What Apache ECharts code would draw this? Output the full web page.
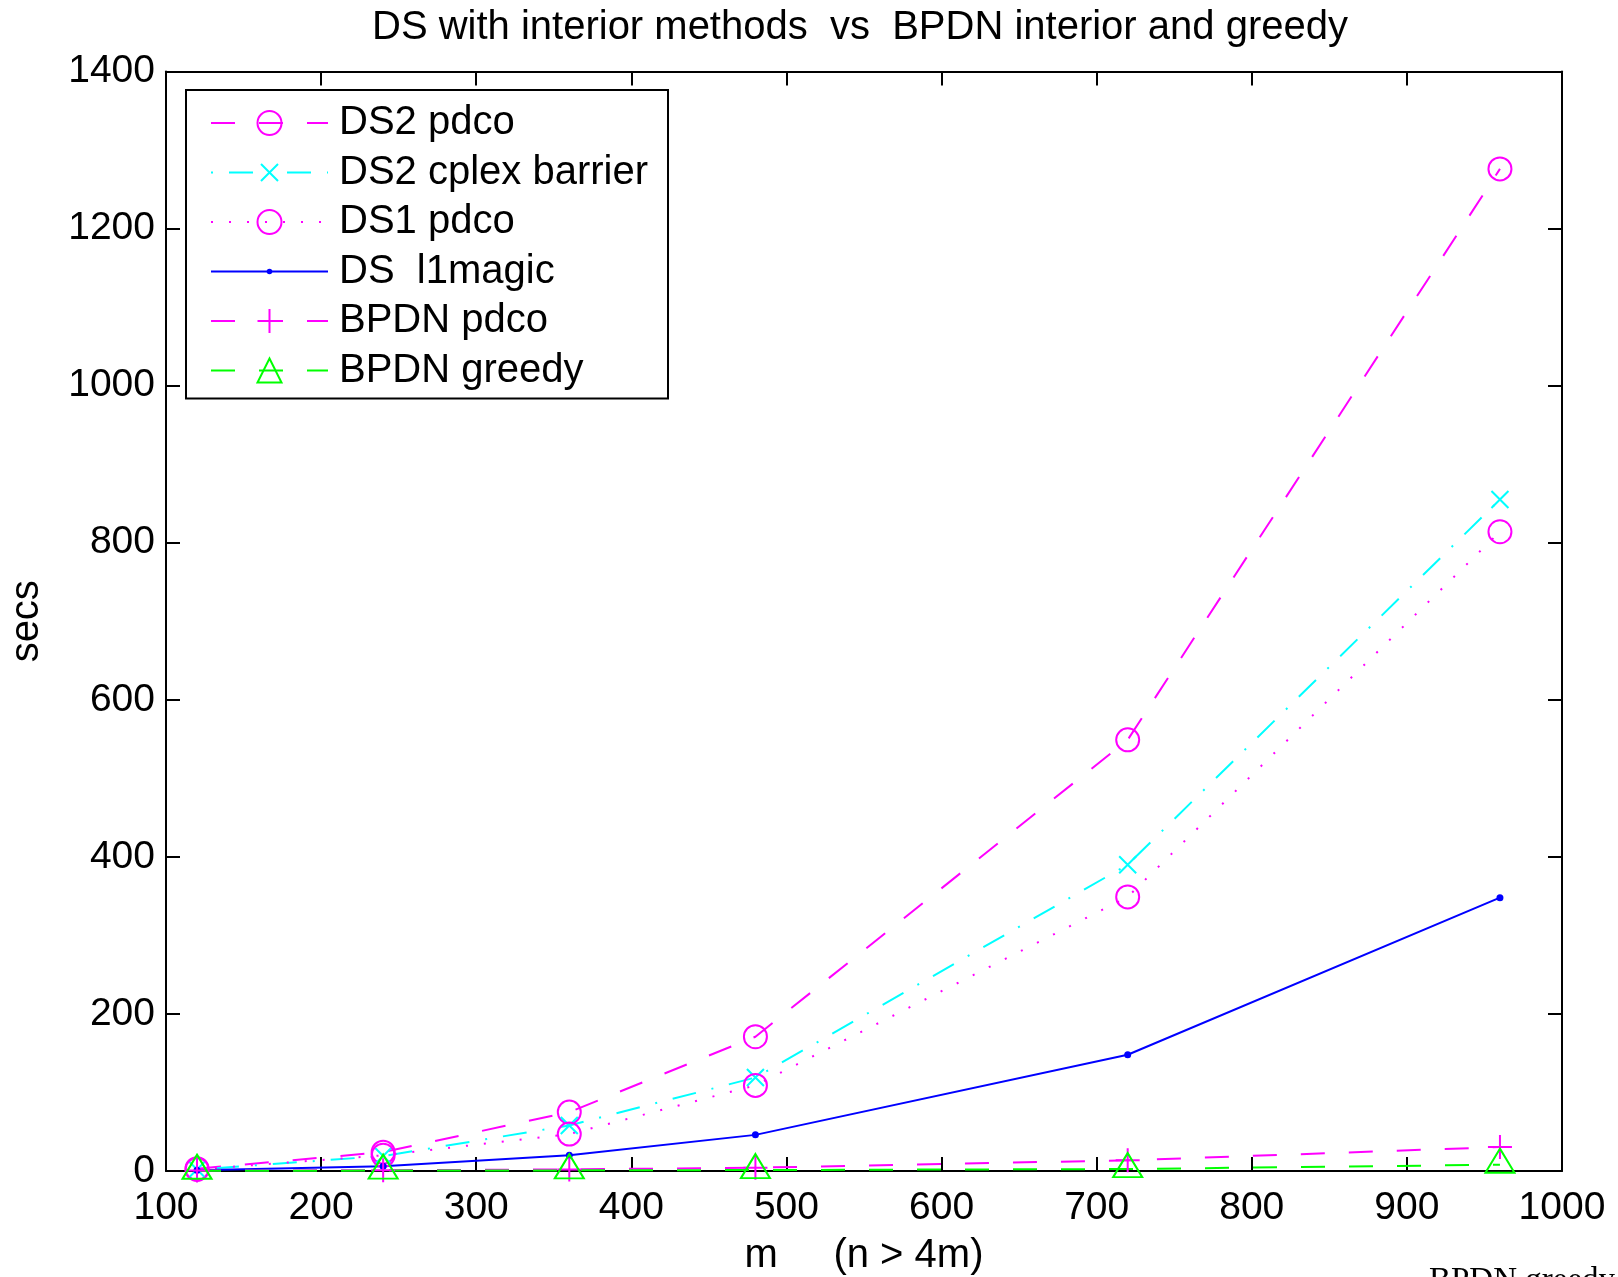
<!DOCTYPE html>
<html>
<head>
<meta charset="utf-8">
<script src="https://cdn.jsdelivr.net/npm/echarts@6/dist/echarts.min.js"></script>
<style>
  html, body { margin: 0; padding: 0; background: #fff; }
  #chart { width: 1618px; height: 1277px; }
</style>
</head>
<body>
<div id="chart"></div>
<script>
// ---- data ----
const m = [120, 240, 360, 480, 720, 960];
const ds2Pdco    = [3, 24, 75, 171, 549, 1276];
const ds2Cplex   = [2, 19, 58, 119, 390, 855];
const ds1Pdco    = [2, 20, 47, 109, 349, 814];
const dsL1magic  = [1, 6, 20, 46, 148, 348];
const bpdnPdco   = [0.5, 1, 2, 4.2, 13.6, 30.5];
const bpdnGreedy = [0.3, 0.5, 0.8, 1.2, 2.5, 8];

const seriesNames = ['DS2 pdco', 'DS2 cplex barrier', 'DS1 pdco', 'DS  l1magic', 'BPDN pdco', 'BPDN greedy'];
const xTicks = [100, 200, 300, 400, 500, 600, 700, 800, 900, 1000];
const yTicks = [0, 200, 400, 600, 800, 1000, 1200, 1400];

const titleText = 'DS with interior methods  vs  BPDN interior and greedy';
const xName = 'm     (n > 4m)';
const yName = 'secs';

// ---- styling ----
const FONT = '"Liberation Sans", Arial, Helvetica, sans-serif';
const MAGENTA = '#ff00ff', CYAN = '#00ffff', BLUE = '#0000ff', GREEN = '#00ff00';
const DASHED = [24, 24];
const DASHDOT = [2, 16, 24, 16];
const DOTTED = [2, 16];

const pts = (vals) => m.map((x, i) => [x, vals[i]]);

function axisCommon(show) {
  return {
    type: 'value',
    splitLine: { show: false },
    axisLine: { show: true, onZero: false, lineStyle: { color: '#000', width: 2 } },
    axisTick: { show: true, inside: true, length: 14, lineStyle: { color: '#000', width: 2 } },
    axisLabel: { show: show, color: '#000', fontFamily: FONT, fontSize: 39,
                 formatter: (v) => String(v) }
  };
}

const xMin = xTicks[0], xMax = xTicks[xTicks.length - 1], xStep = xTicks[1] - xTicks[0];
const yMin = yTicks[0], yMax = yTicks[yTicks.length - 1], yStep = yTicks[1] - yTicks[0];

const xBottom = Object.assign(axisCommon(true), {
  min: xMin, max: xMax, interval: xStep, position: 'bottom',
  name: xName, nameLocation: 'middle', nameGap: 65,
  nameTextStyle: { color: '#000', fontFamily: FONT, fontSize: 40 }
});
xBottom.axisLabel.margin = 18;
const xTop = Object.assign(axisCommon(false), { min: xMin, max: xMax, interval: xStep, position: 'top' });

const yLeft = Object.assign(axisCommon(true), {
  min: yMin, max: yMax, interval: yStep, position: 'left',
  name: yName, nameLocation: 'middle', nameGap: 119, nameRotate: 90,
  nameTextStyle: { color: '#000', fontFamily: FONT, fontSize: 40 }
});
yLeft.axisLabel.margin = 11;
const yRight = Object.assign(axisCommon(false), { min: yMin, max: yMax, interval: yStep, position: 'right' });

const HOLLOW = 'rgba(0,0,0,0)';
const SYM_X = 'path://M0,0M24,24M3.5,3.5L20.5,20.5M20.5,3.5L3.5,20.5';
const SYM_PLUS = 'path://M12,0L12,24M0,12L24,12';
const SYM_DOT = 'path://M0,0M30,30M18.5,15A3.5,3.5,0,1,1,11.5,15A3.5,3.5,0,1,1,18.5,15Z';

function lineSeries(name, vals, color, dash, symbol, symbolSize, itemStyle, extra) {
  return Object.assign({
    name: name,
    type: 'line',
    data: pts(vals),
    xAxisIndex: 0,
    yAxisIndex: 0,
    symbol: symbol,
    symbolSize: symbolSize,
    showSymbol: true,
    showAllSymbol: true,
    clip: false,
    lineStyle: { color: color, width: 2, type: dash, cap: 'butt' },
    itemStyle: itemStyle,
    emphasis: { disabled: true },
    silent: true
  }, extra || {});
}

const series = [
  lineSeries(seriesNames[0], ds2Pdco, MAGENTA, DASHED, 'circle', 23,
    { color: HOLLOW, borderColor: MAGENTA, borderWidth: 2 }),
  lineSeries(seriesNames[1], ds2Cplex, CYAN, DASHDOT, SYM_X, 24,
    { color: HOLLOW, borderColor: CYAN, borderWidth: 2 }),
  lineSeries(seriesNames[2], ds1Pdco, MAGENTA, DOTTED, 'circle', 23,
    { color: HOLLOW, borderColor: MAGENTA, borderWidth: 2 }),
  lineSeries(seriesNames[3], dsL1magic, BLUE, 'solid', SYM_DOT, 30,
    { color: BLUE, borderWidth: 0 }),
  lineSeries(seriesNames[4], bpdnPdco, MAGENTA, DASHED, SYM_PLUS, 24,
    { color: HOLLOW, borderColor: MAGENTA, borderWidth: 2 }),
  lineSeries(seriesNames[5], bpdnGreedy, GREEN, DASHED, 'triangle', [29, 24],
    { color: HOLLOW, borderColor: GREEN, borderWidth: 2 }, { symbolOffset: [0, -4] })
];

const option = {
  animation: false,
  backgroundColor: '#ffffff',
  title: {
    text: titleText,
    left: 372, top: 8, padding: 0,
    textStyle: { color: '#000', fontFamily: FONT, fontSize: 40, fontWeight: 'normal' }
  },
  grid: { left: 166, right: 56, top: 71.5, bottom: 106, containLabel: false, outerBoundsMode: 'none' },
  xAxis: [xBottom, xTop],
  yAxis: [yLeft, yRight],
  legend: {
    show: true,
    orient: 'vertical',
    left: 186, top: 90,
    padding: [13, 20, 8, 24],
    itemWidth: 117, itemHeight: 30, itemGap: 9.5,
    backgroundColor: '#fff', borderColor: '#000', borderWidth: 2, borderRadius: 0,
    selectedMode: false,
    data: seriesNames,
    textStyle: { color: '#000', fontFamily: FONT, fontSize: 40, lineHeight: 40, padding: [0, 0, 0, 6] }
  },
  graphic: [
    {
      type: 'text', left: 1429, top: 1265, silent: true,
      style: { text: 'BPDN greedy', fill: '#000', font: '33px "Liberation Serif", "Times New Roman", serif' }
    }
  ],
  series: series
};

const chart = echarts.init(document.getElementById('chart'), null, { renderer: 'canvas' });
chart.setOption(option);
</script>
</body>
</html>
